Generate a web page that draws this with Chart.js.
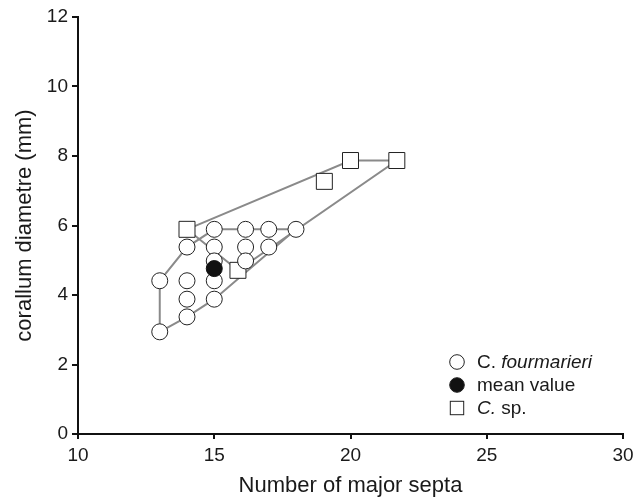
<!DOCTYPE html>
<html><head><meta charset="utf-8">
<script src="https://cdn.jsdelivr.net/npm/chart.js@4/dist/chart.umd.min.js"></script>
<style>html,body{margin:0;padding:0;background:#fff}#wrap{width:642px;height:498px}</style>
</head><body><div id="wrap"><canvas id="c" width="642" height="498"></canvas></div>
<script>
const xTicks = [10, 15, 20, 25, 30];
const yTicks = [0, 2, 4, 6, 8, 10, 12];
const fourmarieriX = [13, 13, 14, 14, 14, 14, 15, 15, 15, 15, 15, 16.15, 16.15, 16.15, 17, 17, 18];
const fourmarieriY = [2.94, 4.41, 5.38, 4.41, 3.88, 3.37, 5.89, 5.38, 4.98, 4.41, 3.88, 5.89, 5.38, 4.98, 5.89, 5.38, 5.89];
const meanX = [15];
const meanY = [4.76];
const spX = [14, 15.87, 19.04, 20, 21.7];
const spY = [5.89, 4.71, 7.27, 7.87, 7.87];
const fourHull = [0, 1, 2, 6, 16, 10, 5, 0];
const spHull = [0, 3, 4, 1, 0];
const legendLabels = [
  [['C. ', 'normal'], ['fourmarieri', 'italic']],
  [['mean value', 'normal']],
  [['C.', 'italic'], [' sp.', 'normal']]
];

const pts = (xs, ys) => xs.map((x, i) => ({x, y: ys[i]}));
const hull = (xs, ys, idx) => idx.map(i => ({x: xs[i], y: ys[i]}));
const FONT = '"Liberation Sans", Arial, Helvetica, sans-serif';
const INK = '#1a1a1a';

const legendPlugin = {
  id: 'customLegend',
  afterDraw(chart) {
    const ctx = chart.ctx;
    const x0 = 457, y0 = 362, dy = 23, r = 7.3, h = 6.7;
    ctx.save();
    ctx.lineWidth = 1;
    ctx.strokeStyle = '#222';
    ctx.beginPath(); ctx.arc(x0, y0, r, 0, Math.PI * 2);
    ctx.fillStyle = '#fff'; ctx.fill(); ctx.stroke();
    ctx.beginPath(); ctx.arc(x0, y0 + dy, r, 0, Math.PI * 2);
    ctx.fillStyle = '#111'; ctx.fill(); ctx.stroke();
    ctx.fillStyle = '#fff';
    ctx.fillRect(x0 - h, y0 + 2 * dy - h, 2 * h, 2 * h);
    ctx.strokeRect(x0 - h, y0 + 2 * dy - h, 2 * h, 2 * h);
    ctx.fillStyle = INK;
    ctx.textBaseline = 'middle';
    legendLabels.forEach((parts, i) => {
      let x = x0 + 20;
      parts.forEach(([t, st]) => {
        ctx.font = (st === 'italic' ? 'italic ' : '') + '19px ' + FONT;
        ctx.fillText(t, x, y0 + i * dy + 1);
        x += ctx.measureText(t).width;
      });
    });
    ctx.restore();
  }
};

new Chart(document.getElementById('c'), {
  type: 'scatter',
  data: {
    datasets: [
      {label: 'C. fourmarieri', data: pts(fourmarieriX, fourmarieriY), pointStyle: 'circle', pointRadius: 8, pointBackgroundColor: '#fff', pointBorderColor: '#222', pointBorderWidth: 1, order: 1},
      {label: 'mean value', data: pts(meanX, meanY), pointStyle: 'circle', pointRadius: 8, pointBackgroundColor: '#111', pointBorderColor: '#111', pointBorderWidth: 1, order: 0},
      {label: 'C. sp.', data: pts(spX, spY), pointStyle: 'rect', pointRadius: 11.3, pointBackgroundColor: '#fff', pointBorderColor: '#222', pointBorderWidth: 1, order: 2},
      {label: 'hull1', type: 'line', data: hull(fourmarieriX, fourmarieriY, fourHull), borderColor: '#8a8a8a', borderWidth: 2, pointRadius: 0, fill: false, tension: 0, order: 10},
      {label: 'hull2', type: 'line', data: hull(spX, spY, spHull), borderColor: '#8a8a8a', borderWidth: 2, pointRadius: 0, fill: false, tension: 0, order: 10}
    ]
  },
  options: {
    responsive: false,
    animation: false,
    devicePixelRatio: 1,
    layout: {padding: {top: 17, right: 19, left: 0, bottom: 0}},
    plugins: {legend: {display: false}, tooltip: {enabled: false}},
    scales: {
      x: {
        type: 'linear', min: 10, max: 30,
        afterBuildTicks: s => { s.ticks = xTicks.map(v => ({value: v})); },
        afterFit: s => { s.height = 64; },
        grid: {display: true, drawOnChartArea: false, drawTicks: true, tickLength: 5, color: '#111', lineWidth: 2},
        border: {display: true, color: '#111', width: 2},
        ticks: {color: INK, font: {family: FONT, size: 19}, padding: 5, maxRotation: 0},
        title: {display: true, text: 'Number of major septa', color: INK, font: {family: FONT, size: 22, lineHeight: 1.1}, padding: {top: 0, bottom: 0}}
      },
      y: {
        type: 'linear', min: 0, max: 12,
        afterBuildTicks: s => { s.ticks = yTicks.map(v => ({value: v})); },
        afterFit: s => { s.width = 78; },
        grid: {display: true, drawOnChartArea: false, drawTicks: true, tickLength: 6, color: '#111', lineWidth: 2},
        border: {display: true, color: '#111', width: 2},
        ticks: {color: INK, font: {family: FONT, size: 19}, padding: 4},
        title: {display: true, text: 'corallum diametre (mm)', color: INK, font: {family: FONT, size: 22, lineHeight: 1.1}, padding: {top: 13, bottom: 0}}
      }
    }
  },
  plugins: [legendPlugin]
});
</script></body></html>
